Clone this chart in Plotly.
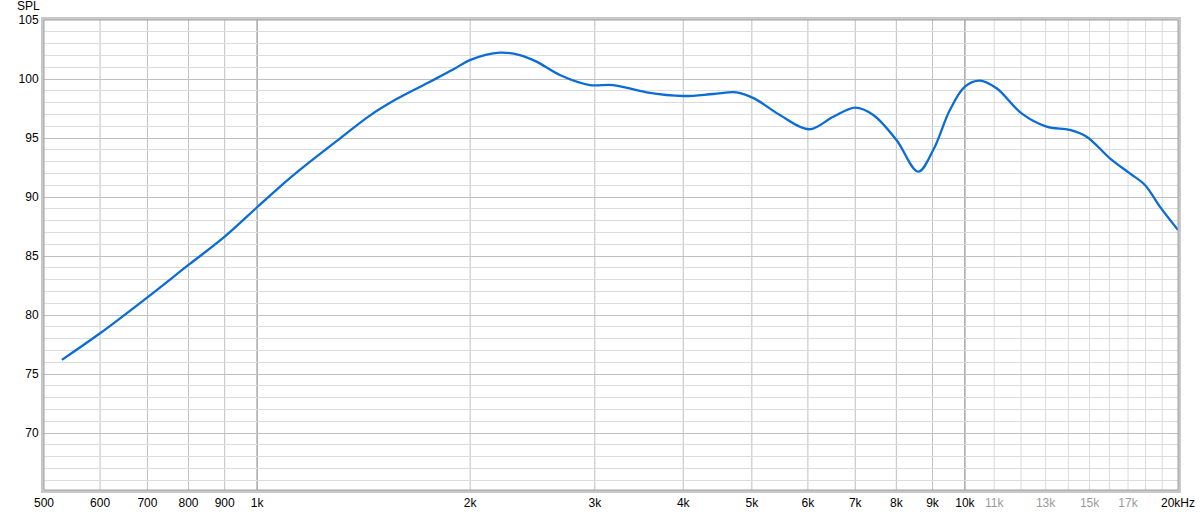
import plotly.graph_objects as go
import math

# ---- data ----
freq_hz = [530, 600, 700, 800, 900, 1000, 1067, 1149, 1309, 1443, 1574, 1755, 1892, 1998,
           2203, 2350, 2482, 2677, 2952, 3184, 3550, 4000, 4409, 4757, 5036, 5477, 6030,
           6516, 7000, 7422, 8004, 8589, 9020, 9522, 10000, 10490, 11083, 12023, 13043,
           14070, 14856, 16025, 17100, 17960, 18855, 20000]
spl_db = [76.2, 78.45, 81.5, 84.24, 86.64, 89.13, 90.65, 92.29, 94.95, 96.9, 98.3, 99.77,
          100.8, 101.6, 102.23, 102.03, 101.47, 100.34, 99.49, 99.49, 98.87, 98.56, 98.73,
          98.87, 98.36, 96.95, 95.74, 96.8, 97.57, 96.95, 94.83, 92.15, 93.98, 97.37, 99.35,
          99.86, 99.21, 97.09, 95.96, 95.68, 95.11, 93.28, 92.0, 91.02, 89.18, 87.2]

x_tick_vals = [500, 600, 700, 800, 900, 1000, 2000, 3000, 4000, 5000, 6000, 7000, 8000,
               9000, 10000, 11000, 13000, 15000, 17000, 20000]
x_tick_text = ["500", "600", "700", "800", "900", "1k", "2k", "3k", "4k", "5k", "6k", "7k",
               "8k", "9k", "10k", "11k", "13k", "15k", "17k", "20kHz"]
x_tick_grey = ["11k", "13k", "15k", "17k"]
y_tick_vals = [70, 75, 80, 85, 90, 95, 100, 105]

grid_mid = [600, 700, 800, 900, 2000, 3000, 4000, 5000, 6000, 7000, 8000, 9000]
grid_dark = [1000, 10000]
grid_light = [11000, 12000, 13000, 14000, 15000, 16000, 17000, 18000, 19000]

X_RANGE = [500, 20000]
Y_RANGE = [65.17, 105]

fig = go.Figure()

fig.add_trace(go.Scatter(
    x=freq_hz, y=spl_db, mode="lines",
    line=dict(color="#0a6cd4", width=2.3, shape="spline", smoothing=1.0),
    hoverinfo="skip", showlegend=False,
))

shapes = []
for f, c in ([(f, "#dcdcdc") for f in grid_light] + [(f, "#c0c0c0") for f in grid_mid]
             + [(f, "#7a7a7a") for f in grid_dark]):
    shapes.append(dict(type="line", xref="x", yref="paper", x0=f, x1=f, y0=0, y1=1,
                       line=dict(color=c, width=1), layer="below"))
# inner frame line
shapes.append(dict(type="rect", xref="paper", yref="paper", x0=0, x1=1, y0=0, y1=1,
                   line=dict(color="#a0a0a0", width=1), layer="above"))

ticktext = [f'<span style="color:#9a9a9a">{t}</span>' if t in x_tick_grey else t
            for t in x_tick_text]

fig.update_layout(
    width=1200, height=515,
    margin=dict(l=44, r=22, t=20, b=25, autoexpand=False),
    paper_bgcolor="white", plot_bgcolor="white",
    font=dict(family="Liberation Sans, Arial, sans-serif", size=12, color="#000000"),
    shapes=shapes,
    xaxis=dict(type="log", range=[math.log10(X_RANGE[0]), math.log10(X_RANGE[1])],
               tickvals=x_tick_vals, ticktext=ticktext, ticks="", showgrid=False,
               zeroline=False, showline=True, linecolor="#c8c8c8", linewidth=3, mirror=True,
               automargin=False, fixedrange=True),
    yaxis=dict(range=Y_RANGE, tickvals=y_tick_vals, ticks="", showgrid=True,
               gridcolor="#c0c0c0", gridwidth=1,
               minor=dict(dtick=1, tick0=0, showgrid=True, gridcolor="#dcdcdc", gridwidth=1),
               zeroline=False, showline=True, linecolor="#c8c8c8", linewidth=3, mirror=True,
               automargin=False, fixedrange=True),
    annotations=[dict(text="SPL", xref="paper", yref="paper", x=0, y=1, xshift=-29,
                      yshift=5, showarrow=False, xanchor="left", yanchor="bottom",
                      font=dict(size=12, color="#000000"))],
)

fig.write_html("out.html", config={"displayModeBar": False},
               post_script="document.body.style.margin='0px';document.body.style.overflow='hidden';")
